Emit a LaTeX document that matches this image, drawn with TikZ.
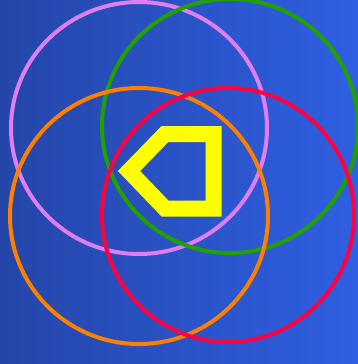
\documentclass[tikz,border=0pt]{standalone}
\usepackage{tikz}
\definecolor{bgleft}{HTML}{2446A8}
\definecolor{bgright}{HTML}{2F5FE2}
\definecolor{ringviolet}{HTML}{E07EF2}
\definecolor{ringgreen}{HTML}{22A000}
\definecolor{ringorange}{HTML}{FF8000}
\definecolor{ringred}{HTML}{FF0040}
\definecolor{markyellow}{HTML}{FFFF00}
\tikzset{
  ring/.style={line width=4pt},
  marker/.style={draw=markyellow, line width=16pt, miter limit=10},
}

\begin{document}
\begin{tikzpicture}[x=1pt, y=-1pt]
  \useasboundingbox (0,0) rectangle (358,364);
  \shade[left color=bgleft, right color=bgright] (0,0) rectangle (358,364);

  \draw[ring, ringviolet] (139,128) ellipse (128 and 126);
  \draw[ring, ringgreen] (230,126) ellipse (128 and 127);
  \draw[ring, ringorange] (139,216) ellipse (129 and 128);
  \draw[ring, ringred] (228,215) ellipse (126 and 127);

  \draw[marker] (165,134) -- (213.5,134) -- (213.5,208.5) -- (165,208.5) -- (129,171) -- cycle;
\end{tikzpicture}
\end{document}
